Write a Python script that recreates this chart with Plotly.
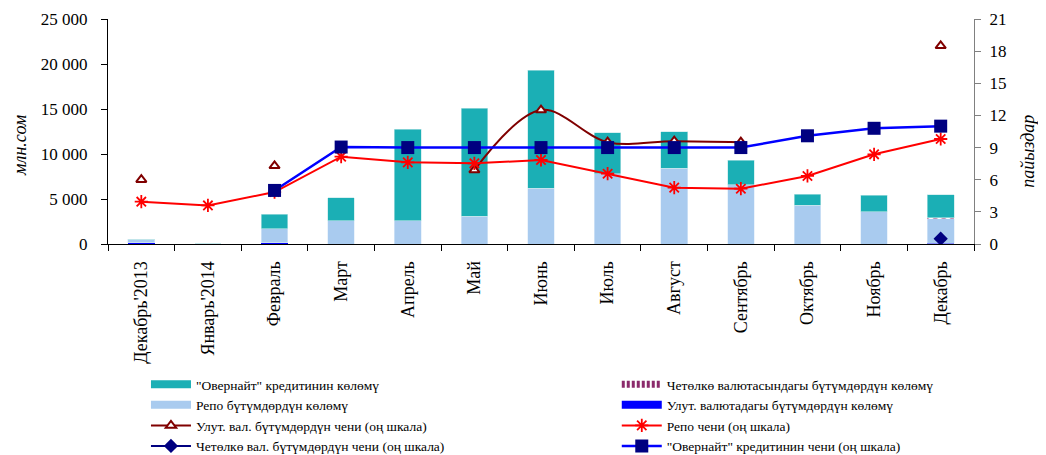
import plotly.graph_objects as go

categories = ["Декабрь'2013", "Январь'2014", "Февраль", "Март", "Апрель", "Май", "Июнь",
              "Июль", "Август", "Сентябрь", "Октябрь", "Ноябрь", "Декабрь"]

# Volumes, mln som (left axis)
nat_cur_volume = [120, 0, 120, 0, 0, 0, 0, 0, 0, 0, 0, 0, 100]
repo_volume = [430, 40, 1550, 2560, 2560, 3110, 6220, 7780, 8400, 6560, 4300, 3560, 2700]
foreign_volume = [0, 0, 0, 0, 0, 0, 0, 0, 0, 0, 0, 0, 100]
overnight_volume = [0, 0, 1630, 2600, 10200, 11960, 13100, 4590, 4080, 2740, 1220, 1880, 2600]

# Rates, % (right axis)
nat_rate = [6.0, None, 7.3, None, None, 6.9, 12.5, 9.5, 9.6, 9.5, None, None, 18.5]
foreign_rate = [None, None, None, None, None, None, None, None, None, None, None, None, 0.5]
repo_rate = [3.95, 3.6, 4.85, 8.15, 7.62, 7.53, 7.84, 6.56, 5.26, 5.16, 6.35, 8.37, 9.8]
overnight_rate = [None, None, 5.0, 9.05, 9.0, 9.0, 9.0, 9.0, 9.0, 9.0, 10.1, 10.8, 11.0]

FONT = "Liberation Serif"
TEAL = "#1BAFB5"
LIGHT = "#A9CBEF"
HATCH = "#8B2A6B"

N_OVN = "\"Овернайт\" кредитинин көлөмү"
N_REPO = "Репо бүтүмдөрдүн көлөмү"
N_FOR = "Четөлкө валютасындагы бүтүмдөрдүн көлөмү"
N_NAT = "Улут. валютадагы бүтүмдөрдүн көлөмү"

fig = go.Figure()

# Stacked volume bars (legend entries drawn by swatch traces below)
fig.add_trace(go.Bar(x=categories, y=nat_cur_volume, name=N_NAT, showlegend=False,
                     marker=dict(color="#0000FF", line=dict(width=0)), width=0.4))
fig.add_trace(go.Bar(x=categories, y=repo_volume, name=N_REPO, showlegend=False,
                     marker=dict(color=LIGHT, line=dict(width=0.6, color="#DDEBF8")), width=0.4))
fig.add_trace(go.Bar(x=categories, y=foreign_volume, name=N_FOR, showlegend=False,
                     marker=dict(color="white", line=dict(width=0),
                                 pattern=dict(shape="/", fgcolor=HATCH, bgcolor="white",
                                              size=6, solidity=0.5)),
                     width=0.4))
fig.add_trace(go.Bar(x=categories, y=overnight_volume, name=N_OVN, showlegend=False,
                     marker=dict(color=TEAL, line=dict(width=0.6, color="#BFE6E8")), width=0.4))

# Wide rectangular legend swatches for the bar series
fig.add_trace(go.Scatter(x=[None], y=[None], mode="lines", name=N_OVN,
                         line=dict(color=TEAL, width=8), legend="legend", legendrank=1))
fig.add_trace(go.Scatter(x=[None], y=[None], mode="lines", name=N_REPO,
                         line=dict(color=LIGHT, width=8), legend="legend", legendrank=2))
fig.add_trace(go.Scatter(x=[None], y=[None], mode="lines", name=N_FOR,
                         line=dict(color=HATCH, width=7, dash="3px,2px"),
                         legend="legend2", legendrank=1))
fig.add_trace(go.Scatter(x=[None], y=[None], mode="lines", name=N_NAT,
                         line=dict(color="#0000FF", width=8), legend="legend2", legendrank=2))

fig.add_trace(go.Scatter(x=categories, y=nat_rate, yaxis="y2", mode="lines+markers",
                         name="Улут. вал. бүтүмдөрдүн чени (оң шкала)",
                         line=dict(color="#800000", width=2, shape="spline"), connectgaps=False,
                         marker=dict(symbol="triangle-up", size=9, color="white",
                                     line=dict(color="#800000", width=2)),
                         legend="legend", legendrank=3))
fig.add_trace(go.Scatter(x=categories, y=repo_rate, yaxis="y2", mode="lines+markers",
                         name="Репо чени (оң шкала)",
                         line=dict(color="#FF0000", width=2),
                         marker=dict(symbol="asterisk-open", size=11, color="#FF0000",
                                     line=dict(color="#FF0000", width=1.8)),
                         legend="legend2", legendrank=3))
fig.add_trace(go.Scatter(x=categories, y=overnight_rate, yaxis="y2", mode="lines+markers",
                         name="\"Овернайт\" кредитинин чени (оң шкала)",
                         line=dict(color="#0000FF", width=2.5),
                         marker=dict(symbol="square", size=13, color="#000080"),
                         legend="legend2", legendrank=4))
fig.add_trace(go.Scatter(x=categories, y=foreign_rate, yaxis="y2", mode="lines+markers",
                         name="Четөлкө вал. бүтүмдөрдүн чени (оң шкала)",
                         line=dict(color="#000080", width=2),
                         marker=dict(symbol="diamond", size=11, color="#000080"),
                         legend="legend", legendrank=4))

fig.update_layout(
    width=1046, height=455,
    barmode="stack",
    separators=", ",
    font=dict(family=FONT, color="black"),
    plot_bgcolor="white", paper_bgcolor="white",
    margin=dict(l=100, r=80, t=11, b=219, autoexpand=False),
    xaxis=dict(type="category", range=[-0.5, 12.5], showline=True, linecolor="black",
               linewidth=1, ticks="outside", tickson="boundaries", ticklen=6,
               tickcolor="black", tickangle=-90, tickfont=dict(size=18, family=FONT),
               ticklabelstandoff=9, showgrid=False, automargin=False),
    yaxis=dict(range=[0, 25000], dtick=5000, tickformat=",.0f", showline=True,
               linecolor="black", linewidth=1, ticks="outside", ticklen=6,
               tickcolor="black", showgrid=False, zeroline=False,
               tickfont=dict(size=17, family=FONT), ticklabelstandoff=10, automargin=False),
    yaxis2=dict(range=[0, 21], dtick=3, overlaying="y", side="right", showline=True,
                linecolor="#808080", linewidth=1, ticks="outside", ticklen=6,
                tickcolor="#808080", showgrid=False, zeroline=False,
                tickfont=dict(size=17, family=FONT), ticklabelstandoff=5, automargin=False),
    legend=dict(xref="container", yref="container", x=0.1319, y=1 - 361 / 455,
                xanchor="left", yanchor="top", orientation="v",
                font=dict(size=13.5, family=FONT), tracegroupgap=0, itemwidth=40,
                bgcolor="rgba(0,0,0,0)", traceorder="normal"),
    legend2=dict(xref="container", yref="container", x=0.5820, y=1 - 361 / 455,
                 xanchor="left", yanchor="top", orientation="v",
                 font=dict(size=13.5, family=FONT), tracegroupgap=0, itemwidth=40,
                 bgcolor="rgba(0,0,0,0)", traceorder="normal"),
    annotations=[
        dict(text="<i>млн.сом</i>", xref="paper", yref="paper", x=-0.1017, y=0.44,
             xanchor="center", yanchor="middle",
             showarrow=False, textangle=-90, font=dict(size=18, family=FONT)),
        dict(text="<i>пайыздар</i>", xref="paper", yref="paper", x=1.0624, y=0.41,
             xanchor="center", yanchor="middle",
             showarrow=False, textangle=-90, font=dict(size=18, family=FONT)),
    ],
)

fig.write_html("out.html")
